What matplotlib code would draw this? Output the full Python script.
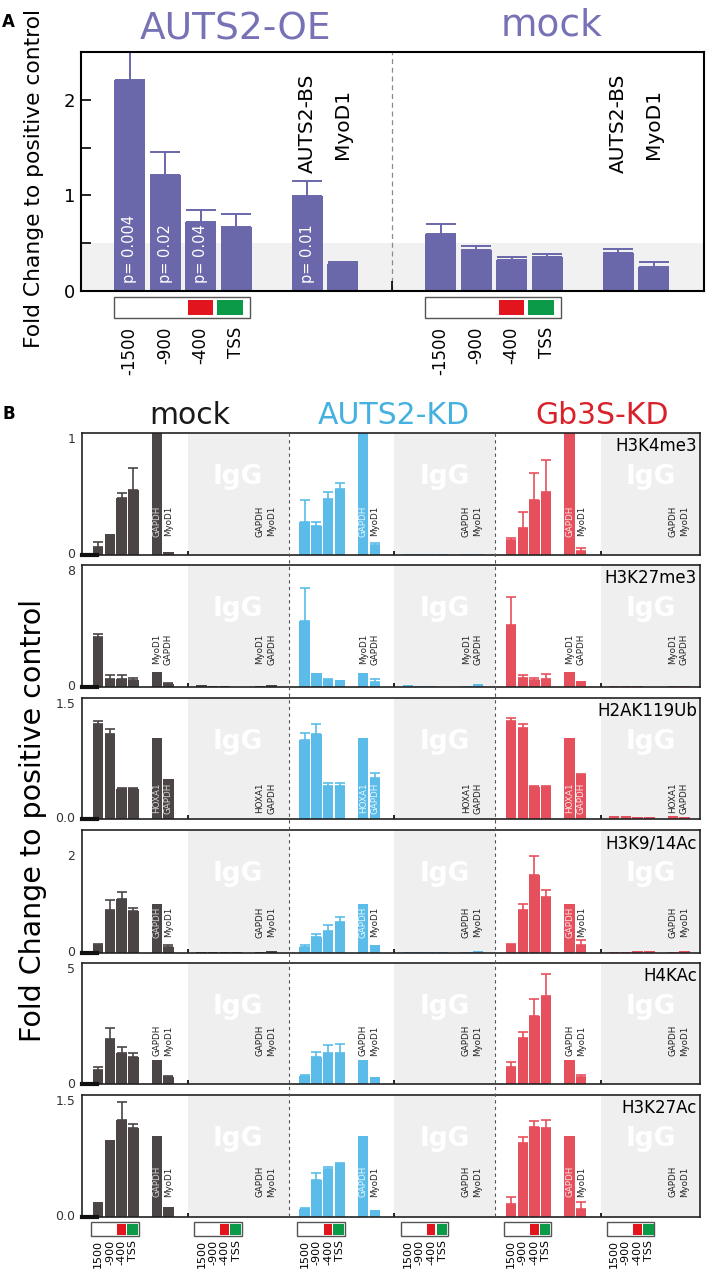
import numpy as np
import matplotlib
matplotlib.use("Agg")
import matplotlib.pyplot as plt
from matplotlib.patches import Rectangle
from matplotlib.lines import Line2D

nan = np.nan

# Data


# panel A: AUTS2-OE vs mock, 4 promoter sites + AUTS2-BS + MyoD1
a_sites = ["-1500", "-900", "-400", "TSS"]
a_pvalues = ["p= 0.004", "p= 0.02", "p= 0.04", "p= 0.01"]
a_controls = ["AUTS2-BS", "MyoD1"]
oe_vals = [2.21, 1.21, 0.72, 0.67, 0.99, 0.28]
oe_err = [0.30, 0.24, 0.13, 0.14, 0.16, 0.02]
a_mock_vals = [0.60, 0.43, 0.32, 0.36, 0.40, 0.25]
a_mock_err = [0.10, 0.04, 0.04, 0.03, 0.04, 0.05]

# panel B: groups = mock, mock IgG, AUTS2-KD, AUTS2-KD IgG, Gb3S-KD, Gb3S-KD IgG
b_conditions = ["mock", "AUTS2-KD", "Gb3S-KD"]
b_sites = ["1500", "-900", "-400", "TSS"]
mark_names = ["H3K4me3", "H3K27me3", "H2AK119Ub", "H3K9/14Ac", "H4KAc", "H3K27Ac"]
mark_ymax = [1, 8, 1.5, 2.5, 5, 1.5]
mark_yticks = [[0, 1], [0, 8], [0, 1.5], [0, 2], [0, 5], [0, 1.5]]
mark_yticklabels = [["0", "1"], ["0", "8"], ["0.0", "1.5"], ["0", "2"], ["0", "5"], ["0.0", "1.5"]]
mark_genes = [["GAPDH", "MyoD1"], ["MyoD1", "GAPDH"], ["HOXA1", "GAPDH"],
              ["GAPDH", "MyoD1"], ["GAPDH", "MyoD1"], ["GAPDH", "MyoD1"]]

h3k4me3_vals = [
    [0.068, 0.16, 0.47, 0.53, 1.0, 0.025],
    [0.004, 0.002, 0.002, 0.002, 0.002, 0.004],
    [0.27, 0.24, 0.46, 0.54, 1.0, 0.08],
    [0.01, 0.005, 0.005, 0.005, 0.005, 0.01],
    [0.12, 0.22, 0.45, 0.52, 1.0, 0.033],
    [0.004, 0.004, 0.004, 0.004, 0.004, 0.004],
]
h3k4me3_err = [
    [0.035, 0.005, 0.04, 0.18, nan, nan],
    [0.18, 0.03, 0.06, 0.05, nan, 0.02],
    [0.02, 0.13, 0.22, 0.26, nan, 0.022],
]

h3k27me3_vals = [
    [3.26, 0.52, 0.52, 0.47, 0.97, 0.21],
    [0.1, 0.05, 0.05, 0.03, 0.05, 0.1],
    [4.33, 0.94, 0.43, 0.43, 0.94, 0.36],
    [0.15, 0.05, 0.05, 0.03, 0.05, 0.2],
    [4.08, 0.62, 0.47, 0.54, 0.97, 0.30],
    [0.05, 0.04, 0.04, 0.03, 0.05, 0.06],
]
h3k27me3_err = [
    [0.22, 0.27, 0.27, 0.15, nan, 0.05],
    [2.19, nan, 0.11, nan, nan, 0.18],
    [1.8, 0.17, 0.11, 0.3, nan, 0.06],
]

h2ak119ub_vals = [
    [1.18, 1.05, 0.37, 0.375, 1.0, 0.5],
    [0.003, 0.003, 0.003, 0.003, 0.003, 0.003],
    [0.98, 1.05, 0.41, 0.41, 1.0, 0.51],
    [0.005, 0.005, 0.005, 0.005, 0.005, 0.005],
    [1.21, 1.125, 0.40, 0.40, 1.0, 0.545],
    [0.04, 0.035, 0.03, 0.025, 0.04, 0.03],
]
h2ak119ub_err = [
    [0.04, 0.07, 0.01, 0.015, nan, nan],
    [0.09, 0.13, 0.04, 0.04, nan, 0.065],
    [0.04, 0.055, 0.005, 0.005, nan, 0.015],
]

h3k9ac_vals = [
    [0.17, 0.87, 1.09, 0.85, 1.0, 0.12],
    [0.02, 0.03, 0.03, 0.02, 0.03, 0.04],
    [0.12, 0.33, 0.45, 0.62, 1.0, 0.16],
    [0.02, 0.02, 0.03, 0.02, 0.03, 0.05],
    [0.16, 0.88, 1.58, 1.14, 1.0, 0.17],
    [0.02, 0.03, 0.05, 0.04, 0.03, 0.05],
]
h3k9ac_err = [
    [0.01, 0.2, 0.16, 0.07, nan, 0.04],
    [0.04, 0.05, 0.11, 0.11, nan, nan],
    [0.03, 0.11, 0.39, 0.15, nan, 0.09],
]

h4kac_vals = [
    [0.58, 1.85, 1.30, 1.10, 1.0, 0.28],
    [0.01, 0.01, 0.01, 0.01, 0.01, 0.01],
    [0.33, 1.13, 1.29, 1.27, 1.0, 0.30],
    [0.01, 0.01, 0.01, 0.01, 0.01, 0.01],
    [0.69, 1.89, 2.82, 3.62, 1.0, 0.28],
    [0.01, 0.01, 0.01, 0.01, 0.01, 0.01],
]
h4kac_err = [
    [0.11, 0.48, 0.22, 0.18, nan, 0.06],
    [0.04, 0.21, 0.32, 0.38, nan, nan],
    [0.23, 0.24, 0.7, 0.92, nan, 0.09],
]

h3k27ac_vals = [
    [0.17, 0.95, 1.19, 1.10, 1.0, 0.12],
    [0.003, 0.003, 0.003, 0.003, 0.003, 0.003],
    [0.10, 0.45, 0.59, 0.65, 1.0, 0.08],
    [0.003, 0.003, 0.003, 0.003, 0.003, 0.003],
    [0.16, 0.91, 1.11, 1.10, 1.0, 0.10],
    [0.003, 0.003, 0.003, 0.003, 0.003, 0.003],
]
h3k27ac_err = [
    [0.005, nan, 0.23, 0.04, nan, nan],
    [0.01, 0.09, 0.03, 0.01, nan, nan],
    [0.09, 0.07, 0.07, 0.09, nan, 0.08],
]

mark_vals = [h3k4me3_vals, h3k27me3_vals, h2ak119ub_vals, h3k9ac_vals, h4kac_vals, h3k27ac_vals]
mark_errs = [h3k4me3_err, h3k27me3_err, h2ak119ub_err, h3k9ac_err, h4kac_err, h3k27ac_err]


# Style


purple = "#6a67aa"
purple_title = "#7672b5"
cond_colors = ["#4b4545", "#5bbce9", "#e6505c"]
title_colors = ["#1a1a1a", "#45b1e0", "#d8222b"]
inside_text = ["#d4d4d4", "#eaf6fd", "#fce6e8"]
light_gray = "#efefef"
red_box = "#e2141e"
green_box = "#0a9a48"

W, H = 709, 1272
fig = plt.figure(figsize=(W / 100, H / 100), dpi=100)
fig.patch.set_facecolor("white")


def fig_rect(left, top, right, bottom):
    return [left / W, 1 - bottom / H, (right - left) / W, (bottom - top) / H]


def promoter_box(ax, x0, y0, h, box_w, red_x, red_w, green_x, green_w, pad):
    tr = ax.get_xaxis_transform()
    ax.add_patch(Rectangle((x0, y0), box_w, h, transform=tr, facecolor="white",
                           edgecolor="#555555", lw=1, clip_on=False))
    ax.add_patch(Rectangle((x0 + red_x, y0 + pad), red_w, h - 2 * pad, transform=tr,
                           facecolor=red_box, lw=0, clip_on=False))
    ax.add_patch(Rectangle((x0 + green_x, y0 + pad), green_w, h - 2 * pad, transform=tr,
                           facecolor=green_box, lw=0, clip_on=False))


# Panel A


axA = fig.add_axes(fig_rect(81, 52, 704, 291))
axA.set_xlim(-1.37, 16.18)
axA.set_ylim(0, 2.5)
axA.axhspan(0, 0.5, color="#f1f1f1", lw=0, zorder=0)

a_pos = np.array([0, 1, 2, 3, 5, 6])
a_offsets = [0, 8.76]

for off, vals, errs in [(a_offsets[0], oe_vals, oe_err), (a_offsets[1], a_mock_vals, a_mock_err)]:
    x = a_pos + off
    axA.bar(x, vals, width=0.87, color=purple, zorder=2)
    axA.errorbar(x, vals, yerr=[np.zeros(len(vals)), errs], fmt="none",
                 ecolor=purple, elinewidth=1.4, capsize=11, capthick=1.4, zorder=2)
    axA.text(x[4], 1.75, a_controls[0], rotation=90, ha="center", va="center", fontsize=14.5)
    axA.text(x[5], 1.75, a_controls[1], rotation=90, ha="center", va="center", fontsize=14.5)
    promoter_box(axA, off - 0.45, -0.113, 0.088, 3.85, 2.1, 0.7, 2.9, 0.75, 0.013)
    for i, lab in enumerate(a_sites):
        axA.text(off + i, -0.15, lab, rotation=90, ha="center", va="top", fontsize=12,
                 transform=axA.get_xaxis_transform())

for i, p in zip([0, 1, 2, 4], a_pvalues):
    axA.text(a_pos[i], 0.08, p, rotation=90, ha="center", va="bottom",
             color="white", fontsize=10.5, zorder=3)

axA.axvline(7.39, color="#8a8a8a", lw=0.9, ls=(0, (4, 3)), zorder=1)
axA.set_yticks([0, 0.5, 1, 1.5, 2])
axA.set_yticklabels(["0", "", "1", "", "2"], fontsize=13)
axA.set_xticks([7.39])
axA.set_xticklabels([""])
axA.tick_params(direction="in", length=7, width=1.2, pad=4)
for s in axA.spines.values():
    s.set_linewidth(1.5)

fig.text(235 / W, 1 - 40 / H, "AUTS2-OE", ha="center", va="baseline",
         fontsize=27, color=purple_title)
fig.text(551 / W, 1 - 35 / H, "mock", ha="center", va="baseline",
         fontsize=27, color=purple_title)
fig.text(2 / W, 1 - 22 / H, "A", ha="left", va="center", fontsize=12, fontweight="bold")
fig.text(34 / W, 1 - 178 / H, "Fold Change to positive control", rotation=90,
         ha="center", va="center", fontsize=15.7)


# Panel B


b_tops = [433, 565, 698, 830, 963, 1095]
b_bottoms = [555, 687, 819, 953, 1084, 1217]
b_left, b_right = 82, 700
b_xlim = (-1.39, 51.43)
b_pos = np.array([0, 1, 2, 3, 5, 6])
b_offsets = [0, 8.82, 17.64, 26.46, 35.28, 44.1]
label_frac = [0.28, 0.31, 0.175, 0.25, 0.36, 0.29]
dash_x = [b_offsets[2] - 1.37, b_offsets[4] - 1.36]

axes_b = []
for m in range(6):
    ax = fig.add_axes(fig_rect(b_left, b_tops[m], b_right, b_bottoms[m]))
    axes_b.append(ax)
    ymax = mark_ymax[m]
    ax.set_xlim(*b_xlim)
    ax.set_ylim(0, ymax)

    # IgG shaded regions
    gray_starts = []
    for k in [1, 3, 5]:
        start = b_offsets[k] - 1.16
        end = dash_x[k // 2] if k < 5 else b_xlim[1]
        gray_starts.append(start)
        ax.axvspan(start, end, color=light_gray, lw=0, zorder=0)
        ax.text((start + end) / 2, 0.64, "IgG", ha="center", va="center", color="white",
                fontsize=19, fontweight="bold", transform=ax.get_xaxis_transform(), zorder=1)

    for k in range(6):
        c = k // 2
        x = b_pos + b_offsets[k]
        vals = np.array(mark_vals[m][k])
        ax.bar(x, vals, width=0.89, color=cond_colors[c], lw=0, zorder=2)
        if k % 2 == 0:
            errs = np.array(mark_errs[m][c])
            ok = ~np.isnan(errs)
            ax.errorbar(x[ok], vals[ok], yerr=[np.zeros(ok.sum()), errs[ok]], fmt="none",
                        ecolor=cond_colors[c], elinewidth=1.2, capsize=3.5, capthick=1.2, zorder=2)
        for j, gene in enumerate(mark_genes[m]):
            inside = (k % 2 == 0) and vals[4 + j] / ymax > label_frac[m] + 0.14
            ax.text(x[4 + j], label_frac[m], gene, rotation=90, ha="center", va="center",
                    fontsize=6.3, color=inside_text[c] if inside else "#222222",
                    transform=ax.get_xaxis_transform(), zorder=3)

    ax.text(0.995, 0.965, mark_names[m], ha="right", va="top", fontsize=12,
            transform=ax.transAxes, zorder=4)
    ax.plot([b_xlim[0], -0.1], [0, 0], color="#111111", lw=3, clip_on=False, zorder=4)

    ax.set_yticks(mark_yticks[m])
    ax.set_yticklabels(mark_yticklabels[m], fontsize=9, color="#333333")
    ylabels = ax.get_yticklabels()
    ylabels[0].set_va("center")
    if mark_yticks[m][1] == ymax:
        ylabels[1].set_va("top")
    ax.set_xticks(gray_starts)
    ax.set_xticklabels([""] * 3)
    ax.tick_params(axis="y", length=0, pad=5)
    ax.tick_params(axis="x", direction="in", length=3, width=1.2)
    for s in ax.spines.values():
        s.set_linewidth(1.2)
        s.set_color("#222222")

# dashed separators running through all B panels
pos0 = axes_b[0].get_position()
for dx in dash_x:
    xf = pos0.x0 + (dx - b_xlim[0]) / (b_xlim[1] - b_xlim[0]) * pos0.width
    fig.add_artist(Line2D([xf, xf], [1 - b_tops[0] / H, 1 - b_bottoms[-1] / H],
                          color="#555555", lw=0.8, ls=(0, (3, 3)), zorder=5))

# promoter schematics and site labels under the last panel
ax_last = axes_b[-1]
for off in b_offsets:
    promoter_box(ax_last, off - 0.62, -0.159, 0.115, 4.06, 2.24, 0.74, 3.07, 0.91, 0.011)
    for i, lab in enumerate(b_sites):
        ax_last.text(off + i, -0.186, lab, rotation=90, ha="center", va="top", fontsize=8,
                     transform=ax_last.get_xaxis_transform())

for cx, name, col in zip([190, 394, 602], b_conditions, title_colors):
    fig.text(cx / W, 1 - 424 / H, name, ha="center", va="baseline", fontsize=21.5, color=col)

fig.text(3 / W, 1 - 414 / H, "B", ha="left", va="center", fontsize=12, fontweight="bold")
fig.text(33 / W, 1 - 821 / H, "Fold Change to positive control", rotation=90,
         ha="center", va="center", fontsize=20.5)

fig.savefig("out.png", dpi=100)
